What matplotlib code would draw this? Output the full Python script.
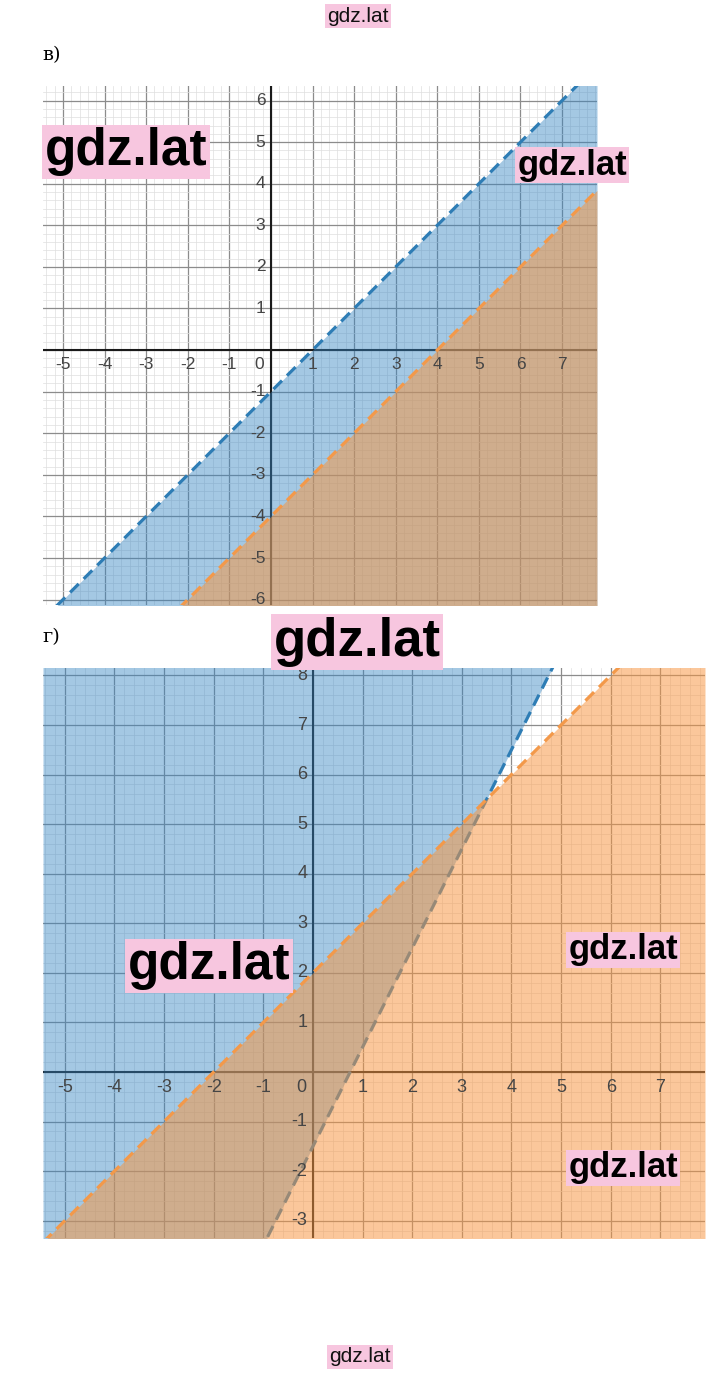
import numpy as np
import matplotlib.pyplot as plt
from matplotlib.ticker import MultipleLocator

plt.rcParams['font.family'] = ['Liberation Sans', 'DejaVu Sans']

# панель в): две прямые y = k*x + b, штриховка ниже обеих
v_xlim = [-5.48, 7.84]
v_ylim = [-6.13, 6.35]
v_slopes = [1, 1]
v_intercepts = [-1, -4]
v_sides = ['below', 'below']
v_xticks = [-5, -4, -3, -2, -1, 1, 2, 3, 4, 5, 6, 7]
v_yticks = [-6, -5, -4, -3, -2, -1, 1, 2, 3, 4, 5, 6]

# панель г)
g_xlim = [-5.44, 7.90]
g_ylim = [-3.35, 8.15]
g_slopes = [2, 1]
g_intercepts = [-1.5, 2]
g_sides = ['above', 'below']
g_xticks = [-5, -4, -3, -2, -1, 1, 2, 3, 4, 5, 6, 7]
g_yticks = [-3, -2, -1, 1, 2, 3, 4, 5, 6, 7, 8]

fill_colors = ['#3585c3', '#f8953f']
fill_alpha = [0.45, 0.52]
line_colors = ['#2e7db5', '#f3994a']

W, H = 720, 1373


def fx(px):
    return px / W


def fy(py):
    return 1 - py / H


def draw_panel(ax, xlim, ylim, slopes, intercepts, sides, xticks, yticks, fs):
    ax.set_xlim(xlim)
    ax.set_ylim(ylim)
    ax.xaxis.set_major_locator(MultipleLocator(1))
    ax.yaxis.set_major_locator(MultipleLocator(1))
    ax.xaxis.set_minor_locator(MultipleLocator(0.2))
    ax.yaxis.set_minor_locator(MultipleLocator(0.2))
    ax.set_axisbelow(True)
    ax.grid(which='major', color='#8c8c8c', lw=0.9)
    ax.grid(which='minor', color='#dedede', lw=0.5)
    ax.tick_params(which='both', length=0, labelbottom=False, labelleft=False)
    for s in ax.spines.values():
        s.set_visible(False)
    ax.axhline(0, color='#1a1a1a', lw=1.5, zorder=0.8)
    ax.axvline(0, color='#1a1a1a', lw=1.5, zorder=0.8)

    x = np.linspace(xlim[0], xlim[1], 2)
    for i in range(len(slopes)):
        y = slopes[i] * x + intercepts[i]
        if sides[i] == 'below':
            ax.fill_between(x, ylim[0] - 1, y, color=fill_colors[i], alpha=fill_alpha[i],
                            lw=0, zorder=1 + 2 * i)
        else:
            ax.fill_between(x, y, ylim[1] + 1, color=fill_colors[i], alpha=fill_alpha[i],
                            lw=0, zorder=1 + 2 * i)
        ax.plot(x, y, color=line_colors[i], lw=2.3, dashes=(3.8, 2.2),
                zorder=2 + 2 * i)

    for t in xticks:
        ax.annotate(str(t), (t, 0), xytext=(0, -5), textcoords='offset points',
                    ha='center', va='top', fontsize=fs, color='#454545', zorder=6)
    for t in yticks:
        ax.annotate(str(t), (0, t), xytext=(-4, 0), textcoords='offset points',
                    ha='right', va='center', fontsize=fs, color='#454545', zorder=6)
    ax.annotate('0', (0, 0), xytext=(-5, -5), textcoords='offset points',
                ha='right', va='top', fontsize=fs, color='#454545', zorder=6)


fig = plt.figure(figsize=(7.2, 13.73), dpi=100)

ax1 = fig.add_axes([fx(43), fy(605), 554 / W, 519 / H])
draw_panel(ax1, v_xlim, v_ylim, v_slopes, v_intercepts, v_sides, v_xticks, v_yticks, 12.5)

ax2 = fig.add_axes([fx(43), fy(1238), 662 / W, 570 / H])
draw_panel(ax2, g_xlim, g_ylim, g_slopes, g_intercepts, g_sides, g_xticks, g_yticks, 13)

fig.text(fx(42), fy(55), 'в)', fontsize=14, family='DejaVu Serif', va='center', ha='left')
fig.text(fx(42), fy(637), 'г)', fontsize=14, family='DejaVu Serif', va='center', ha='left')

# водяные знаки
pink = '#f7c6df'
small = dict(fontsize=15, color='#111111', ha='center', va='center',
             bbox=dict(boxstyle='square,pad=0.1', fc=pink, ec='none'))
fig.text(fx(358), fy(16), 'gdz.lat', **small)
fig.text(fx(360), fy(1357), 'gdz.lat', **small)

marks = [(126, 152, 37), (572, 165, 25), (357, 642, 38), (209, 966, 37),
         (623, 950, 25), (623, 1168, 25)]
for px, py, size in marks:
    fig.text(fx(px), fy(py), 'gdz.lat', fontsize=size, fontweight='bold',
             color='black', ha='center', va='center', zorder=10,
             bbox=dict(boxstyle='square,pad=0.05', fc=pink, ec='none'))

fig.savefig('out.png', dpi=100)
